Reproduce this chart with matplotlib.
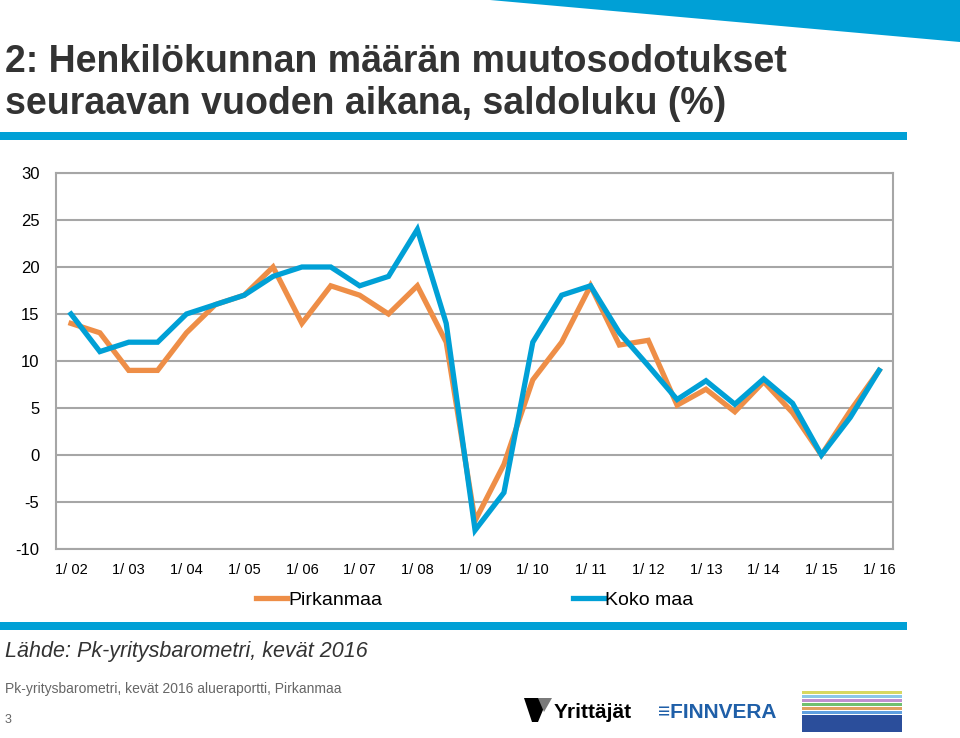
import numpy as np
import matplotlib
matplotlib.use('Agg')
import matplotlib.pyplot as plt
from matplotlib.patches import Polygon, Rectangle

# Data: puolivuosittaiset havainnot, kevät 2002 - kevät 2016
jaksot = np.arange(29)
tick_pos = np.arange(0, 29, 2)
tick_labels = ['1/ %02d' % v for v in range(2, 17)]

pirkanmaa = [14, 13, 9, 9, 13, 16, 17, 20, 14, 18, 17, 15, 18, 12, -7,
             -1, 8, 12, 18, 11.7, 12.2, 5.3, 7.0, 4.6, 7.8, 4.5, 0, 4.7, 9]
koko_maa = [15, 11, 12, 12, 15, 16, 17, 19, 20, 20, 18, 19, 24, 14, -8,
            -4, 12, 17, 18, 13, 9.5, 5.9, 7.9, 5.4, 8.1, 5.5, 0, 4, 9]

oranssi = '#EE8E47'
sininen = '#00A0D6'
harmaa = '#A6A6A6'

plt.rcParams['font.family'] = ['Liberation Sans', 'DejaVu Sans']
plt.rcParams['axes.unicode_minus'] = False

fig = plt.figure(figsize=(9.6, 7.38), dpi=100)

# koristeet: kolmio oikeassa ylakulmassa ja siniset palkit
deko = fig.add_axes([0, 0, 1, 1])
deko.set_xlim(0, 960)
deko.set_ylim(738, 0)
deko.axis('off')
deko.add_patch(Polygon([[490, 0], [960, 0], [960, 42]], closed=True, color=sininen, lw=0))
deko.add_patch(Rectangle((0, 132), 907, 8, color=sininen, lw=0))
deko.add_patch(Rectangle((0, 622), 907, 8, color=sininen, lw=0))

otsikko = '2: Henkilökunnan määrän muutosodotukset\nseuraavan vuoden aikana, saldoluku (%)'
deko.text(5, 83, otsikko, fontsize=27, fontweight='bold', color='#333333',
          va='center', ha='left', linespacing=1.25)

deko.text(5, 651, 'Lähde: Pk-yritysbarometri, kevät 2016', fontsize=15.5,
          style='italic', color='#333333', va='center')
deko.text(5, 689, 'Pk-yritysbarometri, kevät 2016 alueraportti, Pirkanmaa',
          fontsize=10, color='#666666', va='center')
deko.text(5, 720, '3', fontsize=9, color='#666666', va='center')

# logot tekstina
deko.add_patch(Polygon([[524, 698], [548, 698], [538, 722], [532, 722]], closed=True, color='black', lw=0))
deko.add_patch(Polygon([[538, 698], [552, 698], [544, 712]], closed=True, color='#7a7a7a', lw=0))
deko.text(554, 712, 'Yrittäjät', fontsize=15, fontweight='bold', color='black', va='center')
deko.text(658, 713, '≡FINNVERA', fontsize=15, fontweight='bold', color='#1F5FA8', va='center')
raidat = ['#d8d860', '#8cc8e8', '#c090d0', '#70c070', '#e0a060', '#60a0e0']
for i, c in enumerate(raidat):
    deko.add_patch(Rectangle((802, 691 + i * 4), 100, 3, color=c, lw=0))
deko.add_patch(Rectangle((802, 715), 100, 17, color='#2B4E9B', lw=0))

ax = fig.add_axes([56 / 960, (738 - 549) / 738, (893 - 56) / 960, (549 - 173) / 738])
ax.plot(jaksot, pirkanmaa, color=oranssi, lw=3.8, label='Pirkanmaa', solid_joinstyle='miter')
ax.plot(jaksot, koko_maa, color=sininen, lw=3.8, label='Koko maa', solid_joinstyle='miter')

ax.set_xlim(-0.52, 28.48)
ax.set_ylim(-10, 30)
ax.set_yticks(np.arange(-10, 31, 5))
ax.set_xticks(tick_pos)
ax.set_xticklabels(tick_labels)
ax.yaxis.grid(True, color=harmaa, lw=1.5)
ax.set_axisbelow(True)
for s in ax.spines.values():
    s.set_color(harmaa)
    s.set_linewidth(1.5)
ax.tick_params(axis='both', length=0, colors='black')
ax.tick_params(axis='y', pad=12, labelsize=12)
ax.tick_params(axis='x', pad=10, labelsize=10.5)

ax.legend(loc='upper center', bbox_to_anchor=(0.5, -0.065), ncol=2, frameon=False,
          fontsize=14, handlelength=1.6, handletextpad=0.05, columnspacing=9.8)

fig.savefig('out.png', dpi=100)
